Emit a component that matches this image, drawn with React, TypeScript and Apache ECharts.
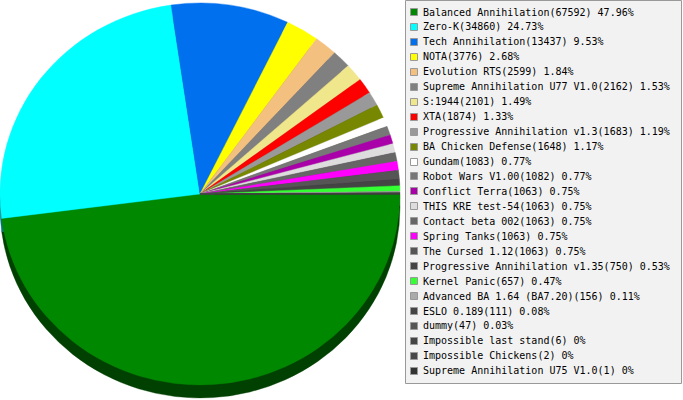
import React, { useEffect, useRef } from 'react';
import * as echarts from 'echarts';

const names = [
  'Balanced Annihilation',
  'Zero-K',
  'Tech Annihilation',
  'NOTA',
  'Evolution RTS',
  'Supreme Annihilation U77 V1.0',
  'S:1944',
  'XTA',
  'Progressive Annihilation v1.3',
  'BA Chicken Defense',
  'Gundam',
  'Robot Wars V1.00',
  'Conflict Terra',
  'THIS KRE test-54',
  'Contact beta 002',
  'Spring Tanks',
  'The Cursed 1.12',
  'Progressive Annihilation v1.35',
  'Kernel Panic',
  'Advanced BA 1.64 (BA7.20)',
  'ESLO 0.189',
  'dummy',
  'Impossible last stand',
  'Impossible Chickens',
  'Supreme Annihilation U75 V1.0',
];

const values = [
  67592, 34860, 13437, 3776, 2599, 2162, 2101, 1874, 1683, 1648, 1083, 1082,
  1063, 1063, 1063, 1063, 1063, 750, 657, 156, 111, 47, 6, 2, 1,
];

const colors = [
  '#008800', '#00ffff', '#0070ee', '#ffff00', '#f4c080', '#808080', '#f0e68c',
  '#ff0000', '#999999', '#778800', '#ffffff', '#777777', '#aa00aa', '#dddddd',
  '#666666', '#ff00ff', '#555555', '#444444', '#33ff33', '#aaaaaa', '#444444',
  '#555555', '#444444', '#484848', '#333333',
];

function darken(hex: string, f: number): string {
  const n = parseInt(hex.slice(1), 16);
  const r = Math.round(((n >> 16) & 255) * f);
  const g = Math.round(((n >> 8) & 255) * f);
  const b = Math.round((n & 255) * f);
  return `rgb(${r},${g},${b})`;
}

export default function App() {
  const ref = useRef<HTMLDivElement>(null);

  useEffect(() => {
    document.body.style.margin = '0';
    if (!ref.current) return;
    const chart = echarts.init(ref.current, null, { renderer: 'svg' });

    const total = values.reduce((a, b) => a + b, 0);
    const cum: number[] = [];
    let acc = 0;
    values.forEach((v) => {
      cum.push(acc);
      acc += v;
    });

    const CX = 200;
    const CY = 194;
    const R = 200;
    const SY = 0.955;
    const DEPTH = 13;

    const makeRender = (depth: number, colorFn: (i: number) => string) =>
      (params: any) => {
        const i = params.dataIndex;
        const s = (cum[i] / total) * Math.PI * 2;
        const e = ((cum[i] + values[i]) / total) * Math.PI * 2;
        const c = colorFn(i);
        return {
          type: 'sector',
          x: CX,
          y: CY + depth,
          scaleY: SY,
          shape: { cx: 0, cy: 0, r: R, r0: 0, startAngle: s, endAngle: e, clockwise: true },
          style: { fill: c, stroke: c, lineWidth: 0.4 },
        };
      };

    const data = values.map((v, i) => ({ value: v, name: names[i] }));

    const pct = (v: number) => String(Math.round((v / total) * 10000) / 100);

    const legendItems: any[] = [];
    names.forEach((n, i) => {
      const cy = 12 + 14.95 * i;
      legendItems.push({
        type: 'rect',
        shape: { x: 410.5, y: Math.round(cy - 4) + 0.5, width: 7, height: 7 },
        style: { fill: colors[i], stroke: '#999999', lineWidth: 1 },
      });
      legendItems.push({
        type: 'text',
        x: 423,
        y: cy,
        style: {
          text: `${n}(${values[i]}) ${pct(values[i])}%`,
          fontFamily: '"DejaVu Sans Mono", monospace',
          fontSize: 10,
          fill: '#000000',
          verticalAlign: 'middle',
          align: 'left',
        },
      });
    });

    chart.setOption({
      animation: false,
      backgroundColor: '#ffffff',
      series: [
        {
          type: 'custom',
          coordinateSystem: 'none',
          z: 1,
          silent: true,
          data,
          renderItem: makeRender(DEPTH, (i) => darken(colors[i], 0.47)),
        },
        {
          type: 'custom',
          coordinateSystem: 'none',
          z: 2,
          silent: true,
          data,
          renderItem: makeRender(0, (i) => colors[i]),
        },
      ],
      graphic: [
        {
          type: 'group',
          z: 10,
          children: [
            {
              type: 'rect',
              shape: { x: 405.5, y: 0.5, width: 276, height: 383 },
              style: { fill: '#f2f2f2', stroke: '#999999', lineWidth: 1 },
            },
            ...legendItems,
          ],
        },
      ],
    });

    return () => chart.dispose();
  }, []);

  return <div ref={ref} style={{ width: 683, height: 400 }} />;
}
